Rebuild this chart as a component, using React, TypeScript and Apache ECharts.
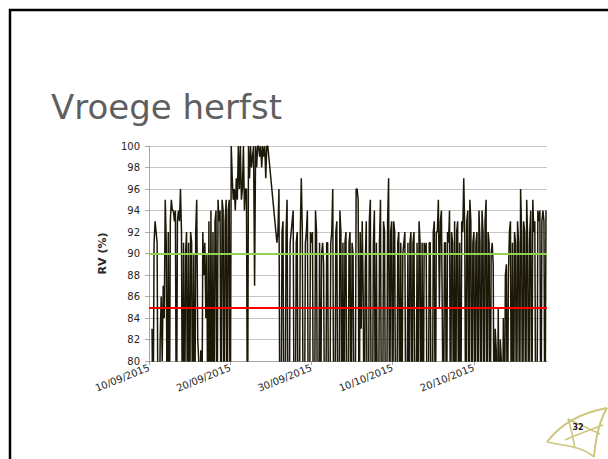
import React, { useEffect, useRef } from "react";
import * as echarts from "echarts";

// Relative humidity (%), 3-hourly readings (00h,03h,...,21h), one week per array, starting 10/09/2015
const startDate = Date.UTC(2015, 8, 10);
const stepsPerDay = 8;

const rvWeek1 = [
  null, null, null, 83, 72, 91, 93, 92,
  91, 70, 70, 82, 86, 80, 87, 84,
  95, 91, 70, 92, 70, 93, 95, 94,
  94, 93, 94, 70, 93, 94, 93, 96,
  92, 70, 91, 70, 90, 92, 70, 91,
  70, 92, 91, 70, 90, 70, 92, 95,
  82, 80, 70, 81, 70, 92, 88, 91,
];
const rvWeek2 = [
  84, 90, 70, 93, 70, 94, 70, 92,
  70, 93, 94, 70, 95, 93, 94, 70,
  95, 94, 70, 93, 95, 70, 94, 95,
  70, 100, 97, 95, 96, 94, 97, 95,
  100, 96, 100, 95, 96, 100, 94, 96,
  96, 70, 100, 97, 100, 98, 99, 100,
  87, 100, 98, 100, 100, 99, 100, 98,
];
const rvWeek3 = [
  100, 99, 100, 97, 100, 100, null, null,
  null, null, null, null, null, null, 91, 92,
  96, 70, 70, 92, 93, 70, 70, 92,
  95, 70, 70, 91, 92, 93, 94, 70,
  70, 91, 92, 70, 70, 92, 97, 92,
  70, 70, 91, 92, 94, 70, 70, 92,
  91, 92, 70, 70, 94, 92, 70, 70,
];
const rvWeek4 = [
  91, 70, 90, 91, 89, 70, 70, 91,
  91, 70, 70, 91, 92, 96, 70, 70,
  92, 93, 70, 70, 94, 92, 70, 91,
  70, 91, 92, 70, 70, 91, 92, 70,
  91, 90, 70, 70, 96, 96, 95, 70,
  92, 83, 93, 86, 70, 89, 93, 70,
  70, 93, 95, 70, 70, 91, 94, 70,
];
const rvWeek5 = [
  91, 70, 70, 91, 95, 70, 70, 93,
  92, 70, 70, 93, 97, 70, 92, 93,
  70, 93, 92, 70, 70, 91, 92, 70,
  91, 70, 90, 91, 92, 70, 70, 91,
  70, 91, 92, 70, 91, 92, 70, 70,
  91, 70, 93, 91, 70, 91, 70, 91,
  90, 91, 70, 70, 91, 91, 70, 70,
];
const rvWeek6 = [
  92, 93, 70, 92, 92, 95, 85, 93,
  94, 83, 70, 91, 91, 70, 92, 91,
  94, 70, 92, 91, 70, 93, 70, 92,
  93, 70, 91, 70, 93, 92, 97, 92,
  70, 93, 94, 70, 95, 93, 70, 91,
  92, 70, 91, 92, 70, 94, 91, 70,
  94, 92, 70, 93, 95, 70, 92, 91,
];
const rvWeek7 = [
  70, 90, 91, 89, 70, 83, 81, 70,
  85, 70, 82, 80, 70, 84, 70, 88,
  89, 70, 88, 92, 93, 70, 91, 70,
  92, 91, 70, 93, 91, 70, 96, 92,
  70, 93, 92, 70, 95, 91, 70, 92,
  94, 70, 95, 92, 93, 70, 70, 94,
  93, 94, 70, 93, 94, 93, 70, 94,
];

const thresholdGreen = 90;
const thresholdRed = 85;
const tickDays = [0, 10, 20, 30, 40];
const yMin = 80;
const yMax = 100;
const xMaxDays = 49;

const allValues = [
  ...rvWeek1, ...rvWeek2, ...rvWeek3, ...rvWeek4, ...rvWeek5, ...rvWeek6, ...rvWeek7,
];

function fmtDate(days: number) {
  const d = new Date(startDate + days * 86400000);
  const dd = String(d.getUTCDate()).padStart(2, "0");
  const mm = String(d.getUTCMonth() + 1).padStart(2, "0");
  return `${dd}/${mm}/${d.getUTCFullYear()}`;
}

export default function App() {
  const ref = useRef<HTMLDivElement>(null);
  useEffect(() => {
    if (!ref.current) return;
    const chart = echarts.init(ref.current, undefined, { renderer: "svg" });
    const data = allValues.map((v, i) => [i / stepsPerDay, v]);
    const logoColor = "#cdc67c";
    chart.setOption({
      animation: false,
      backgroundColor: "#ffffff",
      textStyle: { fontFamily: "DejaVu Sans" },
      grid: { left: 149, top: 146, width: 398, height: 215, containLabel: false },
      xAxis: {
        type: "value",
        min: 0,
        max: xMaxDays,
        interval: 10,
        axisLine: { show: true, lineStyle: { color: "#a6a6a6", width: 1 } },
        axisTick: { show: true, length: 4, lineStyle: { color: "#a6a6a6" }, customValues: tickDays },
        splitLine: { show: false },
        axisLabel: {
          customValues: tickDays,
          rotate: 22,
          margin: 6,
          fontSize: 10,
          color: "#262626",
          fontFamily: "DejaVu Sans",
          formatter: (v: number) => fmtDate(v),
        },
      },
      yAxis: {
        type: "value",
        min: yMin,
        max: yMax,
        interval: 2,
        name: "RV (%)",
        nameLocation: "middle",
        nameGap: 41,
        nameTextStyle: { fontSize: 11, fontWeight: "bold", color: "#262626", fontFamily: "DejaVu Sans" },
        axisLine: { show: true, lineStyle: { color: "#a6a6a6", width: 1 } },
        axisTick: { show: true, length: 4, lineStyle: { color: "#a6a6a6" } },
        splitLine: { show: true, lineStyle: { color: "#c4c4c4", width: 1 } },
        axisLabel: { fontSize: 10, color: "#262626", margin: 9, fontFamily: "DejaVu Sans" },
      },
      series: [
        {
          type: "line",
          data,
          showSymbol: false,
          symbol: "none",
          connectNulls: true,
          clip: true,
          lineStyle: { color: "#1c1808", width: 1.5 },
          markLine: {
            silent: true,
            symbol: ["none", "none"],
            label: { show: false },
            data: [
              { yAxis: thresholdGreen, lineStyle: { color: "#92d050", width: 2, type: "solid" } },
              { yAxis: thresholdRed, lineStyle: { color: "#ff0000", width: 2.2, type: "solid" } },
            ],
          },
        },
      ],
      graphic: [
        { type: "line", shape: { x1: 9, y1: 10, x2: 608, y2: 10 }, style: { stroke: "#000", lineWidth: 2.5 } },
        { type: "line", shape: { x1: 10, y1: 9, x2: 10, y2: 459 }, style: { stroke: "#000", lineWidth: 2.5 } },
        {
          type: "text",
          left: 51,
          top: 90,
          style: { text: "Vroege herfst", fontSize: 34, fill: "#5f5f5f", fontFamily: "DejaVu Sans" },
        },
        {
          type: "group",
          children: [
            { type: "bezierCurve", shape: { x1: 547, y1: 442, cpx1: 562, cpy1: 422, cpx2: 585, cpy2: 412, x2: 607, y2: 408 }, style: { stroke: logoColor, lineWidth: 2, fill: "none" } },
            { type: "bezierCurve", shape: { x1: 607, y1: 408, cpx1: 597, cpy1: 425, cpx2: 595, cpy2: 445, x2: 594, y2: 457 }, style: { stroke: logoColor, lineWidth: 2, fill: "none" } },
            { type: "bezierCurve", shape: { x1: 547, y1: 442, cpx1: 565, cpy1: 446, cpx2: 582, cpy2: 446, x2: 594, y2: 457 }, style: { stroke: logoColor, lineWidth: 1.6, fill: "none" } },
            { type: "bezierCurve", shape: { x1: 568, y1: 419, cpx1: 572, cpy1: 430, cpx2: 573, cpy2: 440, x2: 575, y2: 448 }, style: { stroke: logoColor, lineWidth: 1.6, fill: "none" } },
            { type: "bezierCurve", shape: { x1: 568, y1: 419, cpx1: 580, cpy1: 425, cpx2: 592, cpy2: 430, x2: 600, y2: 434 }, style: { stroke: logoColor, lineWidth: 1.4, fill: "none" } },
            { type: "bezierCurve", shape: { x1: 565, y1: 440, cpx1: 578, cpy1: 434, cpx2: 590, cpy2: 430, x2: 603, y2: 425 }, style: { stroke: logoColor, lineWidth: 1.4, fill: "none" } },
            {
              type: "text",
              x: 578,
              y: 427,
              style: { text: "32", fontSize: 8, fontWeight: "bold", fill: "#1a1a1a", align: "center", verticalAlign: "middle", fontFamily: "DejaVu Sans" },
            },
          ],
        },
      ],
    });
    return () => chart.dispose();
  }, []);
  return (
    <div
      ref={ref}
      style={{ position: "fixed", left: 0, top: 0, width: 608, height: 459, background: "#fff" }}
    />
  );
}
